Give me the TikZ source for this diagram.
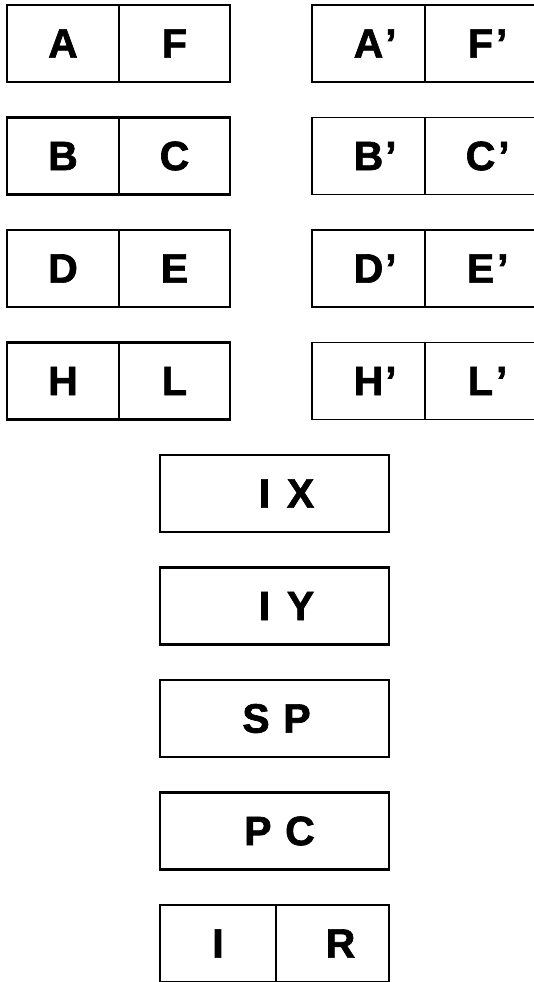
\documentclass[tikz,border=0pt]{standalone}
\usepackage{fontspec}
\setmainfont[BoldFeatures={FakeBold=1.6}]{Liberation Sans}
\usetikzlibrary{positioning}

\begin{document}
\begin{tikzpicture}[x=1pt, y=1pt,
  font=\fontsize{41}{48}\selectfont\bfseries,
  reg/.style={draw, line width=2.3pt, outer sep=0pt, inner sep=0pt, minimum height=77pt, minimum width=112pt},
  alt/.style={reg, line width=1.8pt},
  wide/.style={reg, minimum width=229pt},
  node distance=35.5pt and 0pt]
\useasboundingbox (0,0) rectangle (533,-982);
% main register set
\foreach \hi/\lo [count=\k from 0] in {A/F,B/C,D/E,H/L} {
  \node[reg] (\hi) at (63,-43.5-112.5*\k) {\hi};
  \node[reg, right=0pt of \hi, minimum width=111pt] (\lo) {\lo};
}
% alternate register set
\foreach \hi/\lo [count=\k from 0] in {A/F,B/C,D/E,H/L} {
  \node[alt, minimum width=113pt] (\hi2) at (368.5,-43.5-112.5*\k) {\hi\rlap{\hspace{2pt}’}};
  \node[alt, right=0pt of \hi2, minimum width=111pt] (\lo2) {\lo\rlap{\hspace{3pt}’}};
}
% special purpose registers
\node[wide, text width=229pt, align=center] (IX) at (274.5,-493.5) {\hspace*{24pt}I\hspace{3pt} X};
\node[wide, below=of IX, text width=229pt, align=center] (IY) {\hspace*{24pt}I\hspace{3pt} Y};
\node[wide, below=of IY, text width=229pt, align=center] (SP) {\hspace*{4pt}S P};
\node[wide, below=of SP, text width=229pt, align=center] (PC) {\hspace*{10pt}P C};
\node[reg, below=of PC.south west, anchor=north west, minimum width=116pt] (I) {I};
\node[reg, right=0pt of I, minimum width=113pt] (R) {\hspace*{16pt}R};
\end{tikzpicture}
\end{document}
